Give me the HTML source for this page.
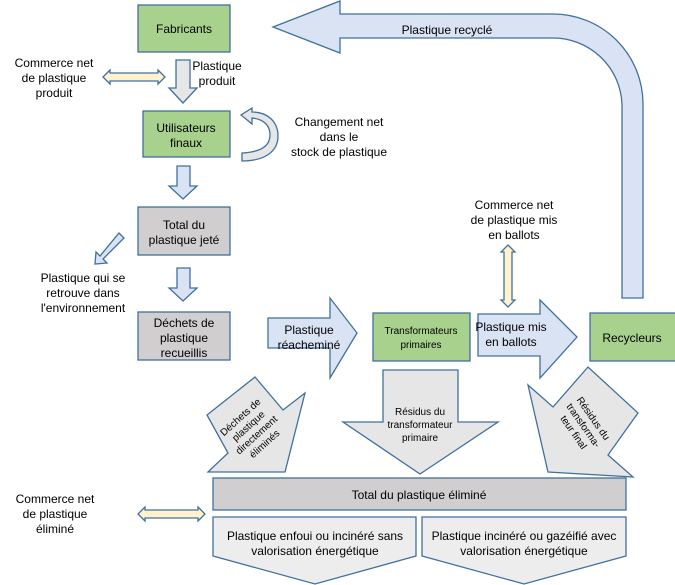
<!DOCTYPE html>
<html><head><meta charset="utf-8"><style>
html,body{margin:0;padding:0;background:#fff}
svg{display:block}
text{font-family:"Liberation Sans",sans-serif;font-size:12px;fill:#000}
</style></head><body>
<svg width="675" height="585" viewBox="0 0 675 585">
<g stroke="#41719c" stroke-width="1.3">
<path d="M273,27 L340,1 L340,14 L553,14 A90,90 0 0 1 643,104 L643,298 L622,298 L622,104 A69,69 0 0 0 553,38 L340,38 L340,53 Z" fill="#dae3f3"/>
<rect x="138" y="5" width="92" height="47" fill="#a9d18e"/>
<rect x="143" y="111" width="87" height="46" fill="#a9d18e"/>
<rect x="138" y="207" width="92" height="48" fill="#d0cece"/>
<rect x="138" y="312" width="92" height="48" fill="#d0cece"/>
<rect x="373" y="313" width="97" height="48" fill="#a9d18e"/>
<rect x="590" y="313" width="95" height="48" fill="#a9d18e"/>
<rect x="213" y="478" width="413" height="32" fill="#d0cece"/>
<path d="M213,517 L416,517 L416,556 L315,584 L213,556 Z" fill="#ededed"/>
<path d="M422,517 L626,517 L626,556 L524,584 L422,556 Z" fill="#ededed"/>
<path d="M176,60 L190,60 L190,88 L197,88 L183,103 L169,88 L176,88 Z" fill="#e7e6e6"/>
<path d="M177,166 L190,166 L190,186 L197,186 L183,199 L169,186 L177,186 Z" fill="#dae3f3"/>
<path d="M177,268 L190,268 L190,288 L197,288 L183,301 L169,288 L177,288 Z" fill="#dae3f3"/>
<path d="M119,233 L124,238 L103,259 L107,263 L95,264 L96,252 L100,256 Z" fill="#dae3f3"/>
<path d="M103,77 L110,70 L110,73 L158,73 L158,70 L165,77 L158,84 L158,81 L110,81 L110,84 Z" fill="#fff2cc"/>
<path d="M138,514 L145,507 L145,510 L198,510 L198,507 L205,514 L198,521 L198,518 L145,518 L145,521 Z" fill="#fff2cc"/>
<path d="M508,245 L515,252 L512,252 L512,300 L515,300 L508,307 L501,300 L504,300 L504,252 L501,252 Z" fill="#fff2cc"/>
<path d="M242,153 C262,152 270,145 270,135 C270,124 262,119 252,118 L252,124 L241,115 L252,108 L252,112 C268,112 278,122 278,136 C278,152 264,161 242,161 Z" fill="#e7e6e6"/>
<path d="M268,318 L330,318 L330,298 L357,333 L330,378 L330,348 L268,348 Z" fill="#dae3f3"/>
<path d="M478,314 L540,314 L540,300 L577,337 L540,378 L540,356 L478,356 Z" fill="#dae3f3"/>
<path d="M383,370 L458,370 L458,422 L498,422 L420,474 L343,422 L383,422 Z" fill="#e7e6e6"/>
<path d="M207,415 L255,377 L283,410 L305,393 L285,472 L208,472 L228,453 Z" fill="#e7e6e6"/>
<path d="M528,385 L553,407 L588,367 L638,413 L608,455 L633,477 L548,472 Z" fill="#e7e6e6"/>
</g>
<g text-anchor="middle">
<text x="184" y="33">Fabricants</text>
<text x="447" y="34">Plastique recyclé</text>
<text x="54" y="67">Commerce net</text>
<text x="54" y="82">de plastique</text>
<text x="54" y="97">produit</text>
<text x="217" y="70">Plastique</text>
<text x="217" y="85">produit</text>
<text x="186" y="132">Utilisateurs</text>
<text x="186" y="147">finaux</text>
<text x="339" y="126">Changement net</text>
<text x="339" y="141">dans le</text>
<text x="339" y="156">stock de plastique</text>
<text x="184" y="229">Total du</text>
<text x="184" y="244">plastique jeté</text>
<text x="83" y="282">Plastique qui se</text>
<text x="83" y="297">retrouve dans</text>
<text x="83" y="312">l'environnement</text>
<text x="184" y="327">Déchets de</text>
<text x="184" y="342">plastique</text>
<text x="184" y="357">recueillis</text>
<text x="309" y="334">Plastique</text>
<text x="309" y="349">réacheminé</text>
<text x="421" y="334" style="font-size:10px">Transformateurs</text>
<text x="421" y="348" style="font-size:10px">primaires</text>
<text x="511" y="331">Plastique mis</text>
<text x="511" y="346">en ballots</text>
<text x="632" y="342">Recycleurs</text>
<text x="514" y="209">Commerce net</text>
<text x="514" y="224">de plastique mis</text>
<text x="514" y="239">en ballots</text>
<text x="420" y="415" style="font-size:10px">Résidus du</text>
<text x="420" y="428" style="font-size:10px">transformateur</text>
<text x="420" y="441" style="font-size:10px">primaire</text>
<g transform="translate(252,430) rotate(-42)">
<text x="0" y="-14" style="font-size:10px">Déchets de</text>
<text x="0" y="-2" style="font-size:10px">plastique</text>
<text x="0" y="10" style="font-size:10px">directement</text>
<text x="0" y="22" style="font-size:10px">éliminés</text>
</g>
<g transform="translate(584,425) rotate(55)">
<text x="0" y="-8" style="font-size:10px">Résidus du</text>
<text x="0" y="4" style="font-size:10px">transforma-</text>
<text x="0" y="16" style="font-size:10px">teur final</text>
</g>
<text x="419" y="499">Total du plastique éliminé</text>
<text x="315" y="540">Plastique enfoui ou incinéré sans</text>
<text x="315" y="555">valorisation énergétique</text>
<text x="524" y="540">Plastique incinéré ou gazéifié avec</text>
<text x="524" y="555">valorisation énergétique</text>
<text x="55" y="503">Commerce net</text>
<text x="55" y="518">de plastique</text>
<text x="55" y="533">éliminé</text>
</g>
</svg>
</body></html>
